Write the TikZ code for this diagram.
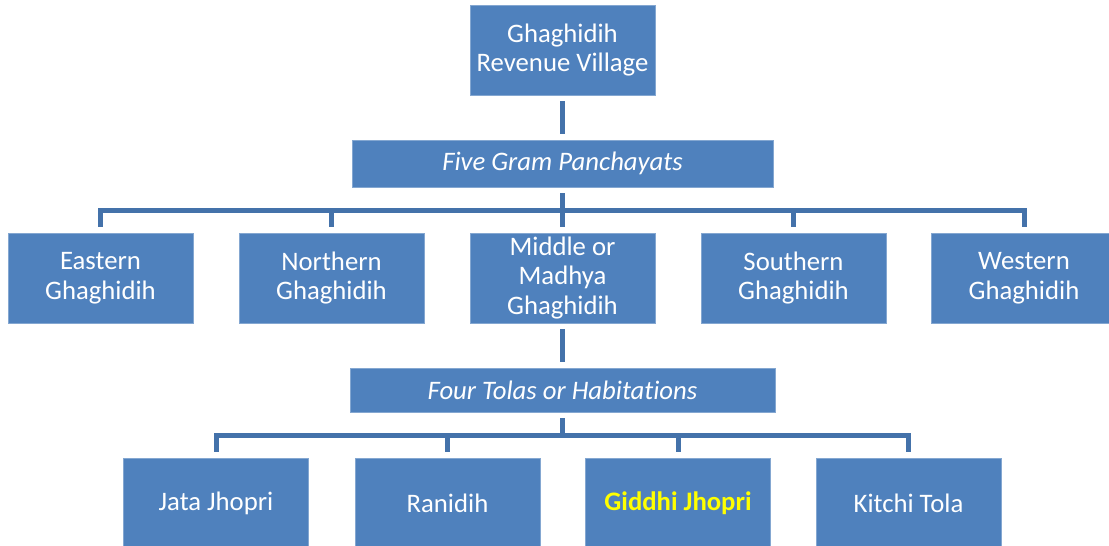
\documentclass[tikz,border=0pt]{standalone}
\usepackage{fontspec}
\setmainfont{Carlito}[Ligatures=NoCommon]
\usepackage{tikz}
\usetikzlibrary{positioning}
\definecolor{boxblue}{RGB}{79,129,189}
\definecolor{lineblue}{RGB}{68,114,170}
\definecolor{marked}{RGB}{255,255,0}

\begin{document}
\begin{tikzpicture}[x=0.025cm,y=-0.025cm,
  unit/.style={draw=boxblue!70!white,line width=0.4pt,fill=boxblue,text=white,align=center,
    font=\fontsize{19}{21}\selectfont,inner sep=2pt,minimum width=4.625cm,minimum height=2.25cm},
  band/.style={unit,font=\fontsize{19}{21}\selectfont\itshape},
  conn/.style={draw=lineblue,line width=0.125cm,line join=miter}]
\useasboundingbox (0,0) rectangle (1109,545);
% revenue village and panchayats
\node[unit] (rv) at (562.5,50) {Ghaghidih\\Revenue Village};
\node[band,minimum width=10.525cm,minimum height=1.175cm] (gp) at (562.5,163.5) {Five Gram Panchayats};
\node[unit] (east) at (100.5,278) {Eastern\\Ghaghidih};
\node[unit] (north) at (331.5,278) {Northern\\Ghaghidih};
\node[unit] (mid) at (562.5,278) {Middle or\\Madhya\\Ghaghidih};
\node[unit] (south) at (793.5,278) {Southern\\Ghaghidih};
\node[unit] (west) at (1024,278) {Western\\Ghaghidih};
% tolas
\node[band,minimum width=10.625cm,minimum height=1.1cm] (tolas) at (562.5,390) {Four Tolas or Habitations};
\node[unit] (jata) at (216,503) {Jata Jhopri};
\node[unit] (rani) at (447.5,503) {Ranidih};
\node[unit,text=marked,font=\fontsize{19}{21}\selectfont\bfseries] (giddhi) at (678,503) {Giddhi Jhopri};
\node[unit] (kitchi) at (908.5,503) {Kitchi Tola};
\coordinate (bar1) at (562.5,210);
\coordinate (bar2) at (562.5,435);
% connectors
\draw[conn,shorten <=0.15cm,shorten >=0.15cm] (rv.south) -- (gp.north);
\draw[conn,shorten <=0.15cm,shorten >=0.15cm] (gp.south) -- (mid.north);
\draw[conn] ([yshift=0.15cm]east.north) -- (east.north |- bar1) -- (west.north |- bar1) -- ([yshift=0.15cm]west.north);
\foreach \p in {north,south}
  \draw[conn,shorten >=0.15cm] (\p.north |- bar1) -- (\p.north);
\draw[conn,shorten <=0.15cm,shorten >=0.15cm] (mid.south) -- (tolas.north);
\draw[conn,shorten <=0.15cm] (tolas.south) -- ([yshift=-0.05cm]bar2);
\draw[conn] ([yshift=0.15cm]jata.north) -- (jata.north |- bar2) -- (kitchi.north |- bar2) -- ([yshift=0.15cm]kitchi.north);
\foreach \p in {rani,giddhi}
  \draw[conn,shorten >=0.15cm] (\p.north |- bar2) -- (\p.north);
\end{tikzpicture}
\end{document}
